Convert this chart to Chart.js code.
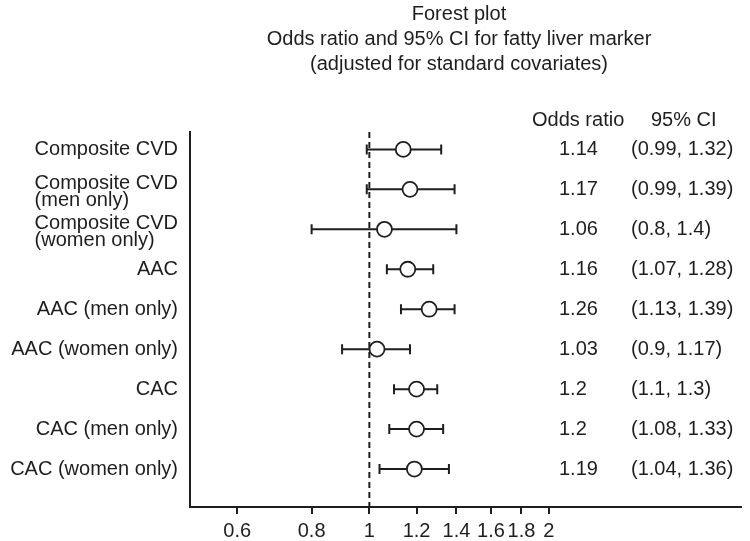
<!DOCTYPE html>
<html>
<head>
<meta charset="utf-8">
<script src="https://cdn.jsdelivr.net/npm/chart.js@4.4.1/dist/chart.umd.min.js"></script>
<style>
  html, body { margin: 0; padding: 0; background: #fff; }
  #wrap { width: 750px; height: 541px; }
</style>
</head>
<body>
<div id="wrap"><canvas id="forest"></canvas></div>
<script>
/***********************
 * DATA
 ***********************/
const titleLines = [
  "Forest plot",
  "Odds ratio and 95% CI for fatty liver marker",
  "(adjusted for standard covariates)"
];
const labels = [
  ["Composite CVD"],
  ["Composite CVD", "(men only)"],
  ["Composite CVD", "(women only)"],
  ["AAC"],
  ["AAC (men only)"],
  ["AAC (women only)"],
  ["CAC"],
  ["CAC (men only)"],
  ["CAC (women only)"]
];
const oddsRatio = [1.14, 1.17, 1.06, 1.16, 1.26, 1.03, 1.2, 1.2, 1.19];
const ciLow = [0.99, 0.99, 0.8, 1.07, 1.13, 0.9, 1.1, 1.08, 1.04];
const ciHigh = [1.32, 1.39, 1.4, 1.28, 1.39, 1.17, 1.3, 1.33, 1.36];
const xTicks = [0.6, 0.8, 1, 1.2, 1.4, 1.6, 1.8, 2];

const INK = "#1e1e1e";
const FONT = "20px 'Liberation Sans', Arial, sans-serif";

/***********************
 * EXTRA DRAWING
 ***********************/
const forestPlugin = {
  id: "forestExtras",
  beforeDatasetsDraw(chart) {
    const { ctx, chartArea, scales } = chart;
    const x = scales.x, y = scales.y;
    ctx.save();
    // reference line at OR = 1
    ctx.strokeStyle = INK;
    ctx.lineWidth = 2;
    ctx.setLineDash([6, 4]);
    const x1 = x.getPixelForValue(1);
    ctx.beginPath();
    ctx.moveTo(x1, chartArea.top);
    ctx.lineTo(x1, chartArea.bottom);
    ctx.stroke();
    ctx.setLineDash([]);
    // confidence intervals
    oddsRatio.forEach((_, i) => {
      const py = y.getPixelForValue(i + 1);
      const a = x.getPixelForValue(ciLow[i]);
      const b = x.getPixelForValue(ciHigh[i]);
      ctx.beginPath();
      ctx.moveTo(a, py); ctx.lineTo(b, py);
      ctx.moveTo(a, py - 5); ctx.lineTo(a, py + 5);
      ctx.moveTo(b, py - 5); ctx.lineTo(b, py + 5);
      ctx.stroke();
    });
    ctx.restore();
  },
  afterDraw(chart) {
    const { ctx, scales } = chart;
    const y = scales.y;
    ctx.save();
    ctx.fillStyle = INK;
    ctx.font = FONT;
    ctx.textBaseline = "middle";

    // title
    ctx.textAlign = "center";
    titleLines.forEach((t, i) => ctx.fillText(t, 459, 14 + i * 25));

    // column headers
    ctx.textAlign = "left";
    ctx.fillText("Odds ratio", 532, 120);
    ctx.fillText("95% CI", 651, 120);

    labels.forEach((lines, i) => {
      const py = y.getPixelForValue(i + 1);
      // row label, block right aligned, lines left aligned
      const w = Math.max(...lines.map(l => ctx.measureText(l).width));
      const lx = 178 - w;
      if (lines.length === 1) {
        ctx.fillText(lines[0], lx, py);
      } else {
        ctx.fillText(lines[0], lx, py - 6);
        ctx.fillText(lines[1], lx, py + 11);
      }
      // values
      ctx.fillText(String(oddsRatio[i]), 559, py);
      ctx.fillText(`(${ciLow[i]}, ${ciHigh[i]})`, 631, py);
    });
    ctx.restore();
  }
};

/***********************
 * CHART
 ***********************/
new Chart(document.getElementById("forest"), {
  type: "scatter",
  data: {
    datasets: [{
      data: oddsRatio.map((v, i) => ({ x: v, y: i + 1 })),
      pointRadius: 7.5,
      pointHoverRadius: 7.5,
      pointBorderWidth: 1.8,
      pointBorderColor: INK,
      pointBackgroundColor: "#fff"
    }]
  },
  options: {
    responsive: true,
    maintainAspectRatio: false,
    animation: false,
    layout: { padding: { top: 132, left: 190, right: 5, bottom: -7 } },
    plugins: {
      legend: { display: false },
      tooltip: { enabled: false }
    },
    scales: {
      x: {
        type: "logarithmic",
        min: 0.5,
        max: 4.2,
        afterBuildTicks: scale => {
          scale.ticks = xTicks.map(v => ({ value: v }));
        },
        ticks: {
          color: INK,
          font: { family: "'Liberation Sans', Arial, sans-serif", size: 20, lineHeight: 1.1 },
          padding: 6,
          maxRotation: 0,
          autoSkip: false,
          callback: v => String(v)
        },
        grid: {
          drawOnChartArea: false,
          drawTicks: true,
          tickLength: 7,
          color: INK,
          lineWidth: 2
        },
        border: { display: true, color: INK, width: 2 }
      },
      y: {
        type: "linear",
        reverse: true,
        min: 0.565,
        max: 9.95,
        ticks: { display: false },
        grid: { display: false, drawTicks: false },
        border: { display: true, color: INK, width: 2 }
      }
    }
  },
  plugins: [forestPlugin]
});
</script>
</body>
</html>
